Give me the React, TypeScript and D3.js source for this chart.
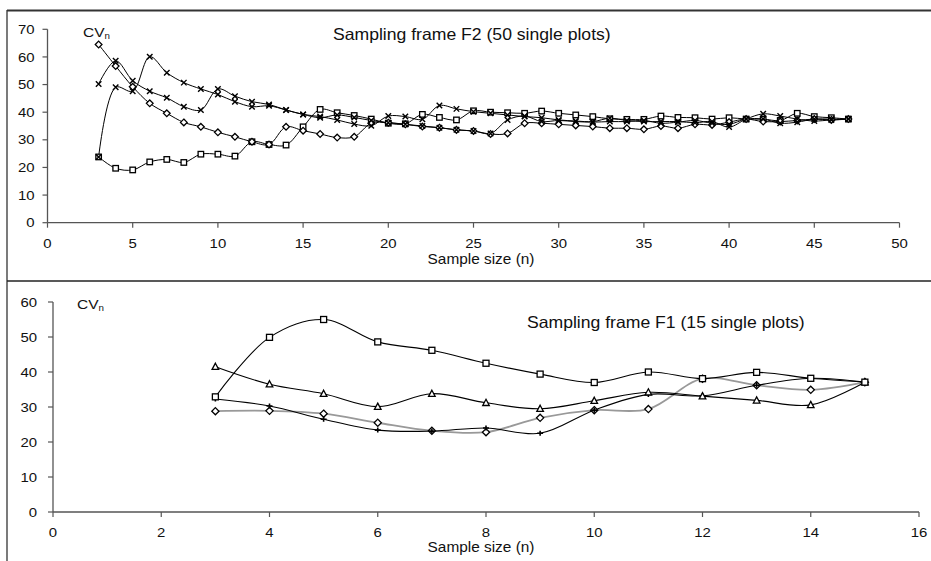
import React from "react";
import * as d3 from "d3";

// ---------- Top panel: Sampling frame F2 ----------
const topSizes = [3,4,5,6,7,8,9,10,11,12,13,14,15,16,17,18,19,20,21,22,23,24,25,26,27,28,29,30,31,32,33,34,35,36,37,38,39,40,41,42,43,44,45,46,47];
const f2Diamond = [64.5,56.7,49.2,43.2,39.6,36.3,34.7,32.7,31.1,29.3,28.3,34.7,33.3,32.1,30.8,31.1,36.0,36.2,35.6,34.8,34.4,33.6,33.2,32.1,32.3,36.0,36.0,35.6,35.2,34.8,34.2,34.2,33.8,35.0,34.2,35.6,35.4,36.4,37.5,36.6,36.6,37.0,37.5,37.2,37.5];
const f2Square = [23.8,19.7,19.1,22.0,22.9,21.8,24.8,24.8,24.1,29.3,28.3,28.1,34.7,41.0,39.8,38.8,37.5,36.0,35.8,39.2,38.1,37.2,40.5,40.0,39.8,39.6,40.4,39.6,39.0,38.4,37.6,37.4,37.4,38.6,38.1,38.0,37.5,38.0,37.5,37.5,37.0,39.6,38.4,38.0,37.5];
const f2CrossA = [50.2,58.6,51.4,47.6,45.2,42.0,40.8,48.4,45.8,43.8,42.8,40.8,39.2,38.4,37.2,35.7,35.1,38.6,38.4,37.4,42.4,41.2,40.2,39.6,39.0,38.4,38.0,37.2,36.8,36.6,37.8,37.0,36.6,36.6,36.6,36.2,36.6,34.6,37.5,39.4,38.6,37.5,36.8,37.2,37.5];
const f2CrossB = [23.8,49.0,47.6,60.1,54.3,50.7,48.4,46.4,43.8,42.0,42.3,40.8,39.2,38.0,39.0,38.1,37.0,36.2,35.6,35.0,34.4,33.6,33.2,32.3,37.2,38.6,36.6,37.0,36.6,36.4,36.6,36.6,37.0,36.0,36.4,37.0,36.0,35.6,37.5,37.5,36.0,36.4,37.5,37.5,37.5];
const topXTicks = [0,5,10,15,20,25,30,35,40,45,50];
const topYTicks = [0,10,20,30,40,50,60,70];

// ---------- Bottom panel: Sampling frame F1 ----------
const bottomSizes = [3,4,5,6,7,8,9,10,11,12,13,14,15];
const f1Square = [32.9,49.9,55.0,48.6,46.2,42.5,39.4,37.0,40.0,38.1,39.9,38.2,37.1];
const f1Triangle = [41.5,36.5,33.8,30.1,33.8,31.2,29.5,31.8,34.2,33.1,31.9,30.6,37.1];
const f1Plus = [32.3,30.3,26.5,23.4,23.1,24.0,22.5,29.1,33.6,33.2,36.2,38.2,37.1];
const f1Diamond = [28.8,28.9,28.1,25.5,23.2,22.8,26.9,29.1,29.4,38.1,36.2,34.9,37.1];
const bottomXTicks = [0,2,4,6,8,10,12,14,16];
const bottomYTicks = [0,10,20,30,40,50,60];

const FONT = "'Liberation Sans', Arial, Helvetica, sans-serif";

function SText(props: { x: number; y: number; size: number; sx: number; anchor?: string; dy?: string; children: React.ReactNode }) {
  return (
    <text
      transform={`translate(${props.x},${props.y}) scale(${props.sx},1)`}
      x={0} y={0} dy={props.dy}
      textAnchor={props.anchor || "start"}
      fontSize={props.size} fontFamily={FONT} fill="#111"
    >
      {props.children}
    </text>
  );
}

type Marker = "diamond" | "square" | "cross" | "triangle" | "plus";

function MarkerShape({ type, x, y, s }: { type: Marker; x: number; y: number; s: number }) {
  const h = s / 2;
  if (type === "diamond")
    return <path d={`M${x},${y - h - 0.6}L${x + h + 0.6},${y}L${x},${y + h + 0.6}L${x - h - 0.6},${y}Z`} fill="white" stroke="#000" strokeWidth={1.3} />;
  if (type === "square")
    return <rect x={x - h} y={y - h} width={s} height={s} fill="white" stroke="#000" strokeWidth={1.3} />;
  if (type === "triangle")
    return <path d={`M${x},${y - h - 0.5}L${x + h + 0.3},${y + h - 0.3}L${x - h - 0.3},${y + h - 0.3}Z`} fill="white" stroke="#000" strokeWidth={1.3} />;
  if (type === "plus")
    return <path d={`M${x - h},${y}L${x + h},${y}M${x},${y - h + 0.5}L${x},${y + h - 0.5}`} stroke="#000" strokeWidth={1.6} fill="none" />;
  return <path d={`M${x - h},${y - h}L${x + h},${y + h}M${x + h},${y - h}L${x - h},${y + h}`} stroke="#000" strokeWidth={1.4} fill="none" />;
}

interface Series { values: number[]; marker: Marker; color: string; width: number; }

function Panel(props: {
  sizes: number[]; series: Series[]; xTicks: number[]; yTicks: number[];
  x0: number; x1: number; y0: number; y1: number; xMax: number; yMax: number;
  title: string; titleX: number; titleY: number; cvX: number; cvY: number;
  xLabelY: number; axisTitleX: number; axisTitleY: number; yLabelGap: number; markerSize: number;
}) {
  const x = d3.scaleLinear().domain([0, props.xMax]).range([props.x0, props.x1]);
  const y = d3.scaleLinear().domain([0, props.yMax]).range([props.y0, props.y1]);
  const line = d3.line<number>()
    .x((_, i) => x(props.sizes[i]))
    .y((v) => y(v))
    .curve(d3.curveCatmullRom.alpha(0.5));
  const axisColor = "#555";
  return (
    <g>
      <line x1={props.x0} x2={props.x0} y1={y(0)} y2={y(props.yMax)} stroke={axisColor} strokeWidth={1.3} />
      {props.yTicks.map((t) => (
        <g key={"y" + t}>
          <line x1={props.x0 - 5} x2={props.x0} y1={y(t)} y2={y(t)} stroke={axisColor} strokeWidth={1.2} />
          <SText x={props.x0 - props.yLabelGap} y={y(t)} dy="0.36em" anchor="end" size={13} sx={1.15}>{t}</SText>
        </g>
      ))}
      <line x1={x(0)} x2={x(props.xMax)} y1={props.y0} y2={props.y0} stroke={axisColor} strokeWidth={1.3} />
      {props.xTicks.map((t) => (
        <g key={"x" + t}>
          <line x1={x(t)} x2={x(t)} y1={props.y0} y2={props.y0 + 5} stroke={axisColor} strokeWidth={1.2} />
          <SText x={x(t)} y={props.xLabelY} anchor="middle" size={13} sx={1.15}>{t}</SText>
        </g>
      ))}
      <SText x={props.axisTitleX} y={props.axisTitleY} anchor="middle" size={14} sx={1.1}>Sample size (n)</SText>
      <SText x={props.cvX} y={props.cvY} size={13.5} sx={1.15}>CV<tspan fontSize={8.5} dy={2}>n</tspan></SText>
      <SText x={props.titleX} y={props.titleY} size={16.3} sx={1.08}>{props.title}</SText>
      {props.series.map((s, si) => (
        <path key={"l" + si} d={line(s.values) || ""} fill="none" stroke={s.color} strokeWidth={s.width} />
      ))}
      {props.series.map((s, si) => (
        <g key={"m" + si}>
          {s.values.map((v, i) => (
            <MarkerShape key={i} type={s.marker} x={x(props.sizes[i])} y={y(v)} s={props.markerSize} />
          ))}
        </g>
      ))}
    </g>
  );
}

export default function App() {
  const topSeries: Series[] = [
    { values: f2Square, marker: "square", color: "#000", width: 1 },
    { values: f2Diamond, marker: "diamond", color: "#000", width: 1 },
    { values: f2CrossA, marker: "cross", color: "#000", width: 1 },
    { values: f2CrossB, marker: "cross", color: "#000", width: 1 },
  ];
  const bottomSeries: Series[] = [
    { values: f1Diamond, marker: "diamond", color: "#999", width: 1.8 },
    { values: f1Plus, marker: "plus", color: "#000", width: 1.1 },
    { values: f1Triangle, marker: "triangle", color: "#000", width: 1.1 },
    { values: f1Square, marker: "square", color: "#000", width: 1.1 },
  ];
  return (
    <svg width={931} height={561} style={{ position: "absolute", left: 0, top: 0, background: "white" }}>
      <rect x={0} y={0} width={931} height={561} fill="white" />
      <line x1={7} x2={931} y1={10.5} y2={10.5} stroke="#333" strokeWidth={2} />
      <line x1={7} x2={7} y1={10} y2={561} stroke="#333" strokeWidth={1.3} />
      <line x1={7} x2={931} y1={281} y2={281} stroke="#222" strokeWidth={1.5} />
      <Panel
        sizes={topSizes} series={topSeries} xTicks={topXTicks} yTicks={topYTicks}
        x0={47.5} x1={899.5} y0={222.7} y1={29.3} xMax={50} yMax={70}
        title="Sampling frame F2 (50 single plots)" titleX={333} titleY={40}
        cvX={83} cvY={37} xLabelY={248} axisTitleX={481} axisTitleY={264} yLabelGap={13} markerSize={5.5}
      />
      <Panel
        sizes={bottomSizes} series={bottomSeries} xTicks={bottomXTicks} yTicks={bottomYTicks}
        x0={53} x1={919} y0={512} y1={302} xMax={16} yMax={60}
        title="Sampling frame F1 (15 single plots)" titleX={527} titleY={328}
        cvX={77} cvY={309} xLabelY={537} axisTitleX={481} axisTitleY={552} yLabelGap={16} markerSize={6}
      />
    </svg>
  );
}
